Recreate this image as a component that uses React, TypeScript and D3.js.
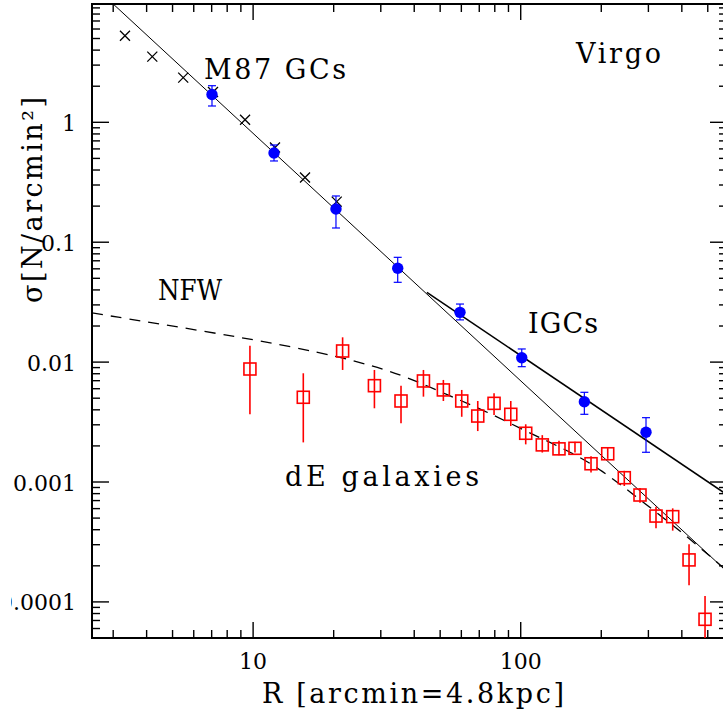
import * as d3 from 'd3';

// ---------------------------------------------------------------------------
// Data
// ---------------------------------------------------------------------------
const X_DOMAIN: [number, number] = [2.5, 590];
const Y_DOMAIN: [number, number] = [5e-5, 9.7];

const X_TICK_VALUES = [10, 100];
const X_TICK_LABELS = ['10', '100'];
const Y_TICK_VALUES = [1, 0.1, 0.01, 0.001, 0.0001];
const Y_TICK_LABELS = ['1', '0.1', '0.01', '0.001', '0.0001'];

// M87 GCs, inner profile (crosses)
const CROSS_R = [3.32, 4.2, 5.48, 7.08, 9.33, 12.07, 15.63, 20.53];
const CROSS_SIGMA = [5.28, 3.53, 2.36, 1.79, 1.05, 0.617, 0.347, 0.218];

// GCs with error bars (blue dots)
const GC_R = [7.02, 11.97, 20.4, 34.7, 59.3, 100.9, 172.9, 293.9];
const GC_SIGMA = [1.706, 0.555, 0.189, 0.0606, 0.026, 0.01088, 0.00467, 0.0026];
const GC_HI = [2.02, 0.647, 0.243, 0.0748, 0.0305, 0.01287, 0.0056, 0.00344];
const GC_LO = [1.368, 0.476, 0.1314, 0.0463, 0.0225, 0.00916, 0.00367, 0.00177];

// dE galaxies (red open squares)
const DE_R = [9.73, 15.4, 21.6, 28.4, 35.7, 43.3, 51.4, 60.2, 69.1, 79.5, 91.8, 104.4, 120.4, 139, 159.5, 183.1, 211.4, 243.8, 279.1, 320.3, 369.8, 425.6, 488.4];
const DE_SIGMA = [0.00876, 0.00509, 0.01238, 0.00636, 0.00474, 0.00696, 0.00586, 0.00474, 0.00355, 0.00453, 0.00367, 0.00255, 0.00204, 0.00189, 0.00191, 0.00142, 0.00172, 0.001086, 0.000779, 0.00052, 0.000514, 0.000224, 0.0000716];
const DE_HI = [0.0137, 0.00807, 0.0161, 0.0086, 0.00636, 0.0086, 0.0071, 0.00586, 0.00474, 0.0055, 0.00474, 0.00303, 0.00246, 0.00221, 0.00217, 0.00164, 0.00192, 0.00124, 0.000891, 0.000622, 0.000603, 0.000302, 0.000112];
const DE_LO = [0.00367, 0.00214, 0.0086, 0.00412, 0.00309, 0.00515, 0.00474, 0.0035, 0.00266, 0.00362, 0.00293, 0.00206, 0.00176, 0.00167, 0.00176, 0.0012, 0.00156, 0.000926, 0.000673, 0.000411, 0.000393, 0.000138, 0.00004];

// model curves
const M87_LINE_R = [3.0, 590];
const M87_LINE_SIGMA = [9.7, 0.000179];
const IGC_LINE_R = [44.6, 590];
const IGC_LINE_SIGMA = [0.0382, 0.000785];
const NFW_R = [2.5, 9.63, 21.5, 36.4, 51.4, 72.5, 105.3, 148.5, 197.8, 295.6, 421.8, 590];
const NFW_SIGMA = [0.0257, 0.0158, 0.0111, 0.00781, 0.0055, 0.00399, 0.00263, 0.00185, 0.0013, 0.000643, 0.000348, 0.000181];

// ---------------------------------------------------------------------------
// Layout / style
// ---------------------------------------------------------------------------
const W = 723;
const H = 717;
const PLOT = { left: 92, top: 4, right: 727, bottom: 638 };
const FONT = '"DejaVu Serif", serif';
const BLUE = '#0000ff';
const RED = '#ff0000';

const x = d3.scaleLog().domain(X_DOMAIN).range([PLOT.left, PLOT.right]);
const y = d3.scaleLog().domain(Y_DOMAIN).range([PLOT.bottom, PLOT.top]);

const isDecade = (v: number) => Math.abs(Math.log10(v) - Math.round(Math.log10(v))) < 1e-6;

type Pt = [number, number];
const zip = (a: number[], b: number[]): Pt[] => a.map((v, i) => [v, b[i]]);

const straight = d3.line<Pt>().x((d) => x(d[0])).y((d) => y(d[1]));
const smooth = d3
  .line<Pt>()
  .x((d) => x(d[0]))
  .y((d) => y(d[1]))
  .curve(d3.curveBasis);

export default function App() {
  const xTicks = x.ticks();
  const yTicks = y.ticks();

  return (
    <>
      <style>{'body{margin:0}'}</style>
      <svg width={W} height={H} style={{ display: 'block', background: '#fff' }} fontFamily={FONT}>
        <defs>
          <clipPath id="plot-clip">
            <rect x={PLOT.left} y={PLOT.top} width={PLOT.right - PLOT.left} height={PLOT.bottom - PLOT.top} />
          </clipPath>
          {/* the original figure is trimmed a little on the left */}
          <clipPath id="label-clip">
            <rect x={11} y={0} width={W} height={H} />
          </clipPath>
        </defs>

        {/* ticks, all four sides pointing inward */}
        <g stroke="#000" strokeWidth={1.4}>
          {xTicks.map((t) => {
            const len = isDecade(t) ? 16 : 8;
            const px = x(t);
            return (
              <g key={'x' + t}>
                <line x1={px} x2={px} y1={PLOT.bottom} y2={PLOT.bottom - len} />
                <line x1={px} x2={px} y1={PLOT.top} y2={PLOT.top + len} />
              </g>
            );
          })}
          {yTicks.map((t) => {
            const len = isDecade(t) ? 17 : 8;
            const py = y(t);
            return (
              <g key={'y' + t}>
                <line x1={PLOT.left} x2={PLOT.left + len} y1={py} y2={py} />
                <line x1={PLOT.right} x2={PLOT.right - len} y1={py} y2={py} />
              </g>
            );
          })}
        </g>

        {/* frame */}
        <rect
          x={PLOT.left}
          y={PLOT.top}
          width={PLOT.right - PLOT.left}
          height={PLOT.bottom - PLOT.top}
          fill="none"
          stroke="#000"
          strokeWidth={2}
        />

        {/* tick labels */}
        {X_TICK_VALUES.map((v, i) => (
          <text key={'xl' + v} x={x(v)} y={669.3} textAnchor="middle" fontSize={22}>
            {X_TICK_LABELS[i]}
          </text>
        ))}
        <g clipPath="url(#label-clip)">
          {Y_TICK_VALUES.map((v, i) => (
            <text key={'yl' + v} x={76} y={y(v) + 8.5} textAnchor="end" fontSize={22}>
              {Y_TICK_LABELS[i]}
            </text>
          ))}
        </g>

        <g clipPath="url(#plot-clip)">
          {/* model curves */}
          <path d={straight(zip(M87_LINE_R, M87_LINE_SIGMA)) ?? ''} fill="none" stroke="#000" strokeWidth={1} />
          <path d={straight(zip(IGC_LINE_R, IGC_LINE_SIGMA)) ?? ''} fill="none" stroke="#000" strokeWidth={1.6} />
          <path
            d={smooth(zip(NFW_R, NFW_SIGMA)) ?? ''}
            fill="none"
            stroke="#000"
            strokeWidth={1.3}
            strokeDasharray="11,8"
          />

          {/* dE galaxies */}
          {DE_R.map((r, i) => {
            const px = x(r);
            const py = y(DE_SIGMA[i]);
            return (
              <g key={'de' + i} stroke={RED} strokeWidth={1.6} fill="none">
                <line x1={px} x2={px} y1={y(DE_HI[i])} y2={y(DE_LO[i])} />
                <rect x={px - 6} y={py - 6} width={12} height={12} />
              </g>
            );
          })}

          {/* crosses */}
          {CROSS_R.map((r, i) => (
            <path
              key={'cx' + i}
              transform={`translate(${x(r)},${y(CROSS_SIGMA[i])})`}
              d="M-5,-5L5,5M-5,5L5,-5"
              stroke="#000"
              strokeWidth={1.3}
              fill="none"
            />
          ))}

          {/* GCs */}
          {GC_R.map((r, i) => {
            const px = x(r);
            const hi = y(GC_HI[i]);
            const lo = y(GC_LO[i]);
            return (
              <g key={'gc' + i}>
                <g stroke={BLUE} strokeWidth={1.2}>
                  <line x1={px} x2={px} y1={hi} y2={lo} />
                  <line x1={px - 4} x2={px + 4} y1={hi} y2={hi} />
                  <line x1={px - 4} x2={px + 4} y1={lo} y2={lo} />
                </g>
                <circle cx={px} cy={y(GC_SIGMA[i])} r={5.7} fill={BLUE} />
              </g>
            );
          })}
        </g>

        {/* annotations */}
        <g fontSize={27} fill="#000">
          <text x={204} y={78.5} textLength={142} lengthAdjust="spacing">M87 GCs</text>
          <text x={576} y={63.3} textLength={85} lengthAdjust="spacing">Virgo</text>
          <text x={158} y={300} textLength={64} lengthAdjust="spacingAndGlyphs">NFW</text>
          <text x={528} y={332.7} textLength={70} lengthAdjust="spacing">IGCs</text>
          <text x={285} y={486} textLength={194} lengthAdjust="spacing">dE galaxies</text>
        </g>

        {/* axis titles */}
        <text x={262} y={703.3} fontSize={27} textLength={302} lengthAdjust="spacing">
          R [arcmin=4.8kpc]
        </text>
        <text
          transform="translate(41.7,200) rotate(-90)"
          textAnchor="middle"
          fontSize={27}
          textLength={206}
          lengthAdjust="spacing"
        >
          σ[N/arcmin²]
        </text>
      </svg>
    </>
  );
}
